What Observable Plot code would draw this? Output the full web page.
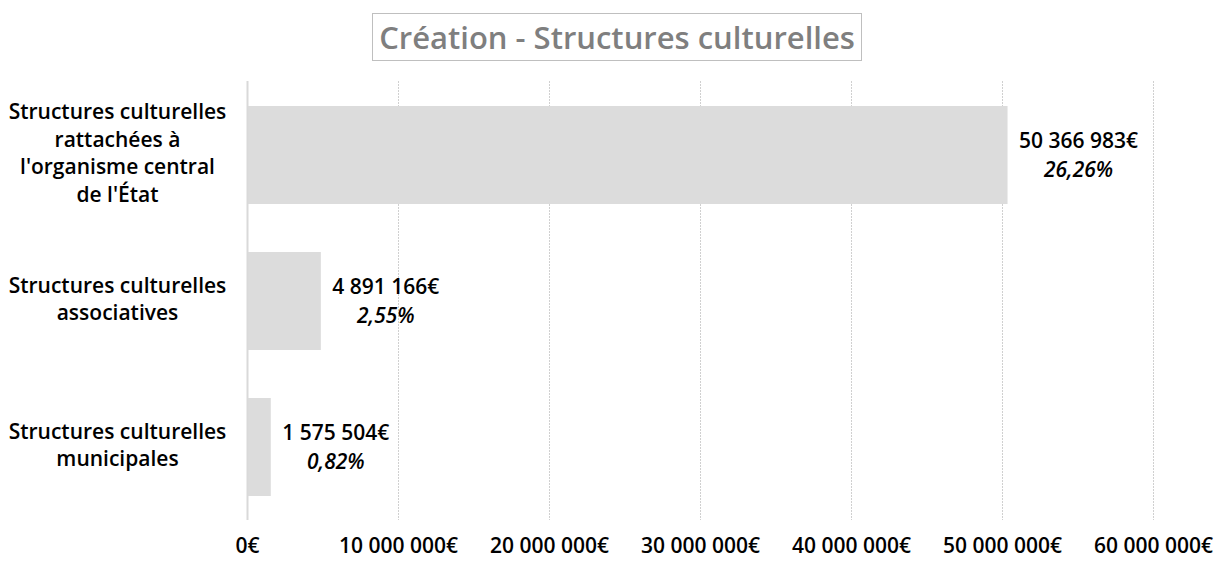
<!DOCTYPE html>
<html>
<head>
<meta charset="utf-8">
<script src="https://cdn.jsdelivr.net/npm/d3@7"></script>
<script src="https://cdn.jsdelivr.net/npm/@observablehq/plot@0.6"></script>
<style>
  html, body { margin: 0; padding: 0; background: #fff; }
  body { width: 1225px; height: 565px; overflow: hidden; font-family: "Open Sans", sans-serif; }
  #title-wrap { height: 61px; position: relative; }
  #title {
    position: absolute; left: 372px; top: 13px; width: 488px; height: 46px;
    border: 1px solid #bfbfbf; box-sizing: content-box;
    color: #7f7f7f; font-weight: 600; font-size: 31px; line-height: 46px; text-align: center;
    white-space: nowrap;
  }
</style>
</head>
<body>
<div id="title-wrap"><div id="title">Création - Structures culturelles</div></div>
<div id="chart"></div>
<script>
const categories = [
  "Structures culturelles\nrattachées à\nl'organisme central\nde l'État",
  "Structures culturelles\nassociatives",
  "Structures culturelles\nmunicipales"
];
const values = [50366983, 4891166, 1575504];
const percents = ["26,26%", "2,55%", "0,82%"];
const xTicks = [0, 10000000, 20000000, 30000000, 40000000, 50000000, 60000000];

const data = categories.map((c, i) => ({category: c, value: values[i], percent: percents[i]}));
const locale = d3.formatLocale({decimal: ",", thousands: "\u00a0", grouping: [3], currency: ["", "€"]});
const fmt = locale.format("$,.0f");

const font = "Open Sans";
const fs = 21;
const plot = Plot.plot({
  width: 1225,
  height: 504,
  marginTop: 20,
  marginBottom: 45,
  marginLeft: 247,
  marginRight: 72,
  style: {fontFamily: font, fontSize: fs + "px", fontWeight: 600, color: "#000", background: "#fff"},
  x: {domain: [0, 60000000], ticks: xTicks, label: null},
  y: {domain: categories, paddingInner: 0.33, paddingOuter: 0.165, label: null},
  marks: [
    Plot.gridX(xTicks.slice(1), {stroke: "#d0d0d0", strokeOpacity: 1, strokeDasharray: "2,1"}),
    Plot.barX(data, {x: "value", y: "category", fill: "#dcdcdc"}),
    Plot.ruleX([0], {stroke: "#d9d9d9", strokeWidth: 2}),
    Plot.axisX({ticks: xTicks, tickSize: 0, tickPadding: 18, tickFormat: fmt, fill: "#000", fontSize: fs, fontWeight: 600, label: null}),
    Plot.axisY({tickSize: 0, tickPadding: 0, textAnchor: "middle", dx: -130, dy: -4, lineHeight: 1.31, fill: "#000", fontSize: fs, fontWeight: 600, label: null}),
    Plot.text(data, {x: "value", y: "category", text: d => fmt(d.value), textAnchor: "middle", dy: -14, fill: "#000", fontSize: fs, fontWeight: 600, className: "vlabel"}),
    Plot.text(data, {x: "value", y: "category", text: "percent", textAnchor: "middle", dy: 15, fill: "#000", fontSize: fs, fontWeight: 600, fontStyle: "italic", className: "plabel"})
  ]
});
document.getElementById("chart").appendChild(plot);

function shiftLabels() {
  const v = plot.querySelectorAll("g.vlabel text");
  const p = plot.querySelectorAll("g.plabel text");
  v.forEach((t, i) => {
    if (t.dataset.base === undefined) t.dataset.base = t.getAttribute("transform") || "";
    if (p[i] && p[i].dataset.base === undefined) p[i].dataset.base = p[i].getAttribute("transform") || "";
    const w = t.getBBox().width;
    const off = w / 2 + 11;
    t.setAttribute("transform", t.dataset.base + ` translate(${off},0)`);
    if (p[i]) p[i].setAttribute("transform", p[i].dataset.base + ` translate(${off},0)`);
  });
}
shiftLabels();
if (document.fonts && document.fonts.ready) document.fonts.ready.then(shiftLabels);
</script>
</body>
</html>
